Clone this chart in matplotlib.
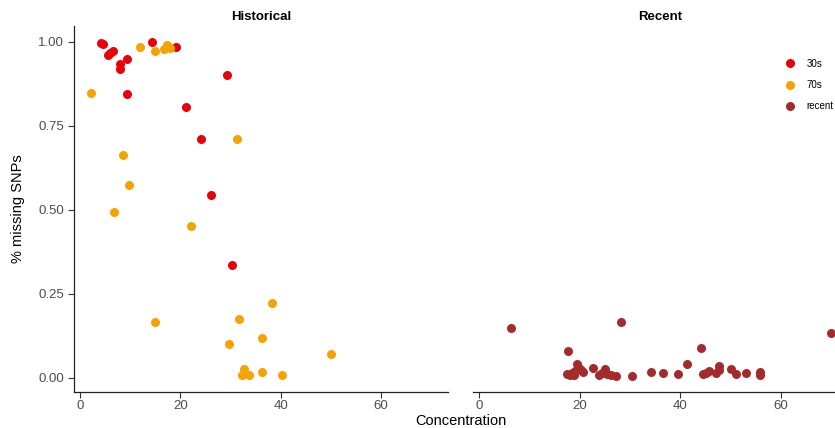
import matplotlib.pyplot as plt
from matplotlib.lines import Line2D

plt.rcParams['font.family'] = ['Liberation Sans', 'DejaVu Sans']

# Historical panel: 30s samples
x_30s = [4.1, 4.5, 5.5, 6.0, 6.5, 7.9, 7.9, 9.3, 9.3, 14.3, 19.1, 21.1, 24.1, 26.1, 29.2, 30.2]
y_30s = [0.996, 0.992, 0.962, 0.968, 0.974, 0.935, 0.919, 0.950, 0.844, 0.998, 0.986, 0.806, 0.710, 0.544, 0.900, 0.337]

# Historical panel: 70s samples
x_70s = [2.2, 11.9, 15.0, 16.7, 17.3, 18.0, 31.3, 8.5, 9.8, 6.7, 22.1, 15.0,
         38.3, 31.7, 29.7, 36.2, 49.9, 32.7, 32.3, 33.7, 36.2, 40.2]
y_70s = [0.849, 0.986, 0.972, 0.978, 0.991, 0.981, 0.712, 0.662, 0.573, 0.494, 0.452, 0.167,
         0.222, 0.176, 0.102, 0.118, 0.070, 0.026, 0.010, 0.010, 0.018, 0.008]

# Recent panel
x_recent = [6.4, 28.2, 17.6, 17.4, 18.0, 18.5, 19.0, 19.5, 19.8, 20.2, 20.6, 18.8,
            22.6, 23.8, 24.4, 25.0, 25.5, 26.2, 27.3, 30.3, 34.1, 36.5, 39.5, 41.3,
            44.0, 44.4, 45.1, 45.6, 47.1, 47.6, 47.7, 50.0, 51.0, 53.0, 55.9, 55.9, 69.9]
y_recent = [0.148, 0.167, 0.080, 0.012, 0.010, 0.015, 0.020, 0.040, 0.030, 0.022, 0.018, 0.008,
            0.028, 0.009, 0.015, 0.026, 0.012, 0.010, 0.007, 0.007, 0.018, 0.016, 0.012, 0.040,
            0.088, 0.012, 0.016, 0.020, 0.014, 0.034, 0.022, 0.027, 0.012, 0.014, 0.018, 0.009, 0.133]

c30 = '#E8000A'
c70 = '#F5A300'
crec = '#A52A2A'
tick_col = '#4D4D4D'

W, H = 835, 428
fig = plt.figure(figsize=(W / 100, H / 100), dpi=100)
ax1 = fig.add_axes([74 / W, (H - 392) / H, 374 / W, 366 / H])
ax2 = fig.add_axes([473 / W, (H - 392) / H, 375 / W, 366 / H])

ms = 42
ax1.scatter(x_30s, y_30s, s=ms, color=c30, linewidths=0)
ax1.scatter(x_70s, y_70s, s=ms, color=c70, linewidths=0)
ax2.scatter(x_recent, y_recent, s=ms, color=crec, linewidths=0)

for ax in (ax1, ax2):
    ax.set_xlim(-1.2, 73.3)
    ax.set_ylim(-0.042, 1.047)
    ax.set_xticks([0, 20, 40, 60])
    ax.set_yticks([0, 0.25, 0.5, 0.75, 1.0])
    for s in ('top', 'right'):
        ax.spines[s].set_visible(False)
    ax.spines['bottom'].set_linewidth(0.9)
    ax.spines['bottom'].set_color('#222222')
    ax.tick_params(axis='x', length=4, width=0.8, color='#333333', labelsize=9.5,
                   labelcolor=tick_col, pad=2)

ax1.spines['left'].set_linewidth(0.9)
ax1.spines['left'].set_color('#222222')
ax1.set_yticklabels(['0.00', '0.25', '0.50', '0.75', '1.00'])
ax1.tick_params(axis='y', length=4, width=0.8, color='#333333', labelsize=9.5,
                labelcolor=tick_col, pad=3)
ax2.spines['left'].set_visible(False)
ax2.tick_params(axis='y', left=False, labelleft=False)

ax1.set_title('Historical', fontsize=9.5, fontweight='bold', pad=4)
ax2.set_title('Recent', fontsize=9.5, fontweight='bold', pad=4)

fig.text(18 / W, (H - 209) / H, '% missing SNPs', rotation=90, fontsize=10.5,
         ha='center', va='center')
fig.text(461 / W, (H - 421) / H, 'Concentration', fontsize=10.5, ha='center', va='center')

handles = [Line2D([], [], marker='o', linestyle='', markersize=6.5, color=c, markeredgewidth=0)
           for c in (c30, c70, crec)]
fig.legend(handles, ['30s', '70s', 'recent'], loc='upper left',
           bbox_to_anchor=(780 / W, (H - 55) / H), frameon=False, fontsize=7,
           handletextpad=1.1, labelspacing=1.15, handlelength=1.2, borderaxespad=0)

fig.savefig('out.png', dpi=100)
